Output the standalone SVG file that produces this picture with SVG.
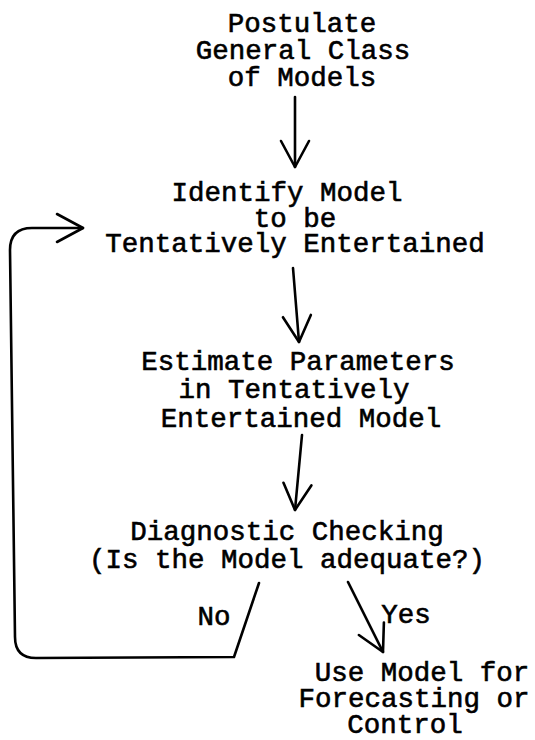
<svg xmlns="http://www.w3.org/2000/svg" width="535" height="740" viewBox="0 0 535 740">
<style>
text{font-family:"Liberation Mono","Courier New",monospace;font-size:27.5px;fill:#000;stroke:#000;stroke-width:0.6;text-anchor:middle}
.c{fill:none;stroke:#000;stroke-width:2.6;stroke-linecap:round;stroke-linejoin:round}
</style>
<defs>
<marker id="ah" viewBox="-30 -18 34 36" refX="0" refY="0" markerWidth="34" markerHeight="36" markerUnits="userSpaceOnUse" orient="auto">
<path d="M-26,-14 L0,0 L-26,14" fill="none" stroke="#000" stroke-width="2.6" stroke-linecap="round" stroke-linejoin="round"/>
</marker>
</defs>
<rect width="535" height="740" fill="#fff"/>
<g id="connectors">
<path class="c" d="M295,97 L295,167" marker-end="url(#ah)"/>
<path class="c" d="M293,268 L299,342" marker-end="url(#ah)"/>
<path class="c" d="M302,435 L295,510" marker-end="url(#ah)"/>
<path class="c" d="M348,582 L383,652" marker-end="url(#ah)"/>
<path class="c" d="M259,583 L234,657 L36,658 Q15,658 15,637 L10,250 Q10,228 32,228 L83,228" marker-end="url(#ah)"/>
</g>
<g id="postulate">
<text x="302" y="32">Postulate</text>
<text x="303" y="59">General Class</text>
<text x="302" y="86">of Models</text>
</g>
<g id="identify">
<text x="287" y="201">Identify Model</text>
<text x="295" y="227">to be</text>
<text x="295" y="252">Tentatively Entertained</text>
</g>
<g id="estimate">
<text x="298" y="370">Estimate Parameters</text>
<text x="294" y="398">in Tentatively</text>
<text x="301" y="427">Entertained Model</text>
</g>
<g id="diagnostic">
<text x="287" y="540">Diagnostic Checking</text>
<text x="287" y="568">(Is the Model adequate?)</text>
</g>
<g id="label-no"><text x="214" y="625">No</text></g>
<g id="label-yes"><text x="406" y="623">Yes</text></g>
<g id="use-model">
<text x="422" y="681">Use Model for</text>
<text x="414" y="707">Forecasting or</text>
<text x="405" y="733">Control</text>
</g>
</svg>
